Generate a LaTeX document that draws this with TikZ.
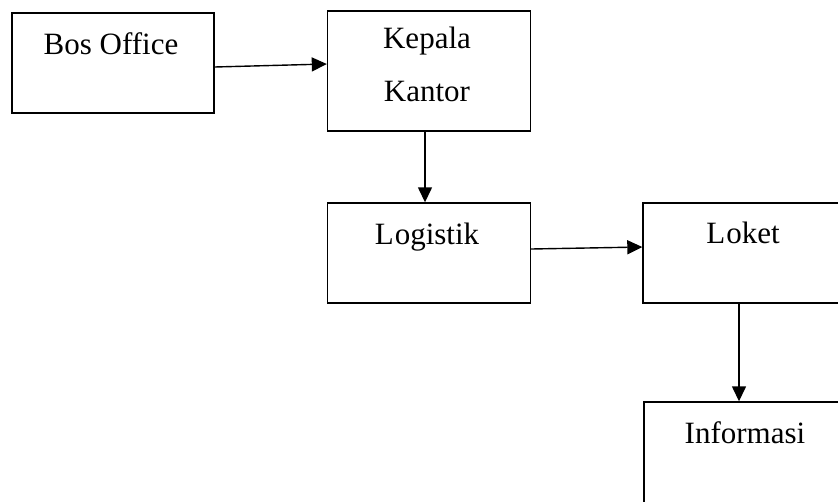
\documentclass[tikz,border=0pt]{standalone}
\usepackage{fontspec}
\setmainfont{Liberation Serif}
\usetikzlibrary{arrows.meta}
\begin{document}
\begin{tikzpicture}[x=1pt,y=-1pt,
  box/.style={draw, line width=1.4pt, rectangle, inner sep=0pt, minimum width=#1},
  box/.default=203pt,
  lbl/.style={anchor=base, inner sep=0pt, font=\fontsize{31}{36}\selectfont},
  conn/.style={line width=1.4pt, -{Triangle[length=15pt,width=14pt]}}]
\useasboundingbox[fill=white] (0,0) rectangle (838,501);
\node[box=202pt, minimum height=100pt] (bos) at (113,63) {};
\node[box, minimum height=120pt] (kep) at (429,71) {};
\node[box, minimum height=100pt] (log) at (429,253) {};
\node[box=210pt, minimum height=100pt] (lok) at (748,253) {};
\node[box=210pt, minimum height=106pt] (inf) at (749,455) {};
\node[lbl] (tbos) at (111,54) {Bos Office};
\node[lbl] (tkep1) at (427,48) {Kepala};
\node[lbl] (tkep2) at (427,101) {Kantor};
\node[lbl] (tlog) at (427,244) {L\kern1pt ogistik};
\node[lbl] (tlok) at (743,243) {L\kern1pt oket};
\node[lbl] (tinf) at (745,443) {Informasi};
\draw[conn] ([yshift=-4pt]bos.east) -- ([yshift=7pt]kep.west);
\draw[conn] ([xshift=-4pt]kep.south) -- ([xshift=-4pt]log.north);
\draw[conn] ([yshift=4pt]log.east) -- ([yshift=6pt]lok.west);
\draw[conn] ([xshift=-9pt]lok.south) -- ([xshift=-10pt]inf.north);
\end{tikzpicture}
\end{document}
